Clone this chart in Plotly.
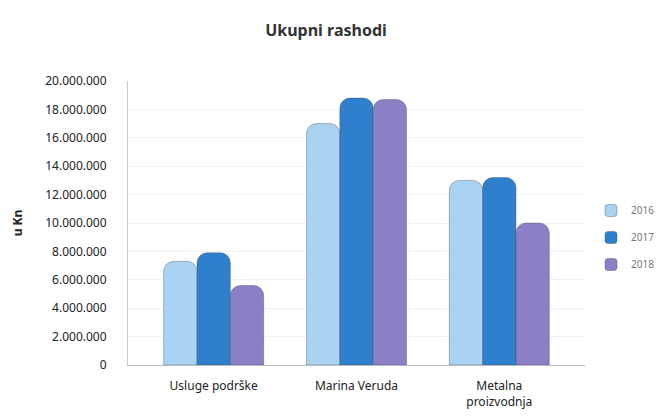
import plotly.graph_objects as go

categories = ["Usluge podrške", "Marina Veruda", "Metalna<br>proizvodnja"]
years = ["2016", "2017", "2018"]
values_2016 = [7300000, 17000000, 13000000]
values_2017 = [7900000, 18800000, 13200000]
values_2018 = [5600000, 18700000, 10000000]
colors = ["#a9d3f0", "#2f80cc", "#8c7fc6"]
tick_vals = [0, 2e6, 4e6, 6e6, 8e6, 10e6, 12e6, 14e6, 16e6, 18e6, 20e6]
tick_text = ["0", "2.000.000", "4.000.000", "6.000.000", "8.000.000", "10.000.000",
             "12.000.000", "14.000.000", "16.000.000", "18.000.000", "20.000.000"]

series = [values_2016, values_2017, values_2018]
fig = go.Figure()
for yr, vals, col in zip(years, series, colors):
    fig.add_trace(go.Bar(
        x=[0, 1, 2], y=vals, name=yr, legendgroup=yr,
        marker=dict(color=col, cornerradius=10, line=dict(color="rgba(60,60,90,0.35)", width=1)),
    ))

# page body has an 8px margin, so the figure is drawn 8px smaller and offset
W, H = 655, 409
L, R, T, B = 120, W - 577, 73, H - 357

fig.update_layout(
    width=W, height=H,
    margin=dict(l=L, r=R, t=T, b=B),
    paper_bgcolor="white", plot_bgcolor="white",
    font=dict(family="Noto Sans, Open Sans, sans-serif", color="#333333", size=12),
    title=dict(text="<b>Ukupni rashodi</b>", x=318 / W, xanchor="center", y=1 - 22 / H, yanchor="middle",
               font=dict(size=16, color="#333333")),
    barmode="group", bargap=0.3, bargroupgap=0.0,
    showlegend=True,
    legend=dict(xref="container", yref="container", x=583 / W, y=1 - 188 / H, xanchor="left", yanchor="top",
                font=dict(size=10, color="#777777"), traceorder="grouped", tracegroupgap=8,
                itemwidth=30, bgcolor="rgba(0,0,0,0)"),
    xaxis=dict(range=[-0.6, 2.6], tickvals=[0, 1, 2], ticktext=categories, showgrid=False,
               zeroline=False, showline=True, linecolor="#bbbbbb", linewidth=1, automargin=False,
               ticks="outside", ticklen=10, tickcolor="rgba(0,0,0,0)",
               tickfont=dict(size=12, color="#222222")),
    yaxis=dict(range=[0, 20e6], tickvals=tick_vals, ticktext=tick_text, showgrid=True,
               gridcolor="#f2f2f2", zeroline=False, showline=True, linecolor="#cccccc", automargin=False,
               ticks="outside", ticklen=18, tickcolor="rgba(0,0,0,0)",
               tickfont=dict(size=12, color="#222222"),
               title=dict(text="<b>u Kn</b>", standoff=20, font=dict(size=12, color="#222222"))),
)

fig.write_html("out.html")
